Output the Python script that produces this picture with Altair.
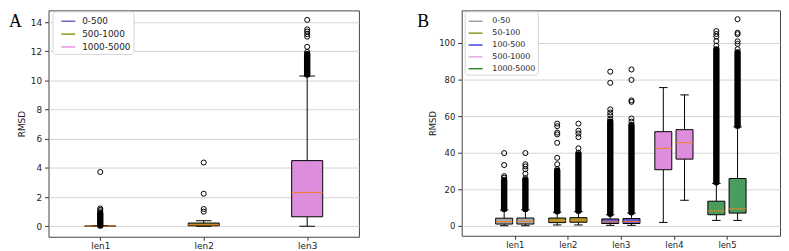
import json
import altair as alt
import pandas as pd

# ---------------- Panel A data ----------------
catsA = ["len1", "len2", "len3"]
groupsA = ["0-500", "500-1000", "1000-5000"]
a_q1 = [0.0, 0.03, 0.65]
a_med = [0.005, 0.10, 2.32]
a_q3 = [0.015, 0.22, 4.5]
a_wlo = [0.0, 0.0, 0.0]
a_whi = [0.04, 0.38, 10.3]
a_out = [[3.72, 1.22, 1.12, 1.02, 0.9],
         [4.37, 2.23, 1.18, 1.0],
         [14.15, 13.5, 13.35, 13.17, 13.0, 12.3, 11.95]]
a_dense = [[0.05, 0.82], None, [10.4, 11.8]]
a_ticks = [0, 2, 4, 6, 8, 10, 12, 14]

# ---------------- Panel B data (two boxes per category) ----------------
catsB = ["len1", "len2", "len3", "len4", "len5"]
groupsB = ["0-50", "50-100", "100-500", "500-1000", "1000-5000"]
b_q1 = [[1.0, 1.0], [1.8, 2.0], [1.3, 1.3], [30.7, 36.5], [6.1, 7.0]]
b_med = [[2.3, 2.4], [2.9, 3.1], [2.2, 2.3], [42.4, 45.5], [8.2, 9.3]]
b_q3 = [[4.2, 4.3], [4.3, 4.5], [3.8, 4.0], [51.5, 52.6], [13.5, 25.9]]
b_wlo = [[0.1, 0.1], [0.5, 0.5], [0.3, 0.3], [1.9, 14.0], [3.0, 3.0]]
b_whi = [[8.7, 8.8], [7.5, 7.8], [6.1, 7.0], [75.6, 71.6], [23.2, 54.1]]
b_out = [[[39.8, 33.3, 27.2, 26.3, 25.2], [39.8, 33.7, 32.5, 31.0, 28.5, 26.0]],
         [[55.9, 54.5, 51.0, 50.0, 45.4, 37.2, 33.7, 31.0], [55.9, 52.0, 50.5, 48.5, 42.4, 40.0]],
         [[84.3, 78.2, 63.7, 62.0, 60.5, 58.5], [85.5, 79.8, 68.6, 67.8, 58.7, 57.0]],
         [[], []],
         [[106.5, 104.9, 103.5, 101.0, 98.5], [113.0, 105.6, 104.8, 100.9, 99.5, 96.6]]]
b_dense = [[[9.3, 24.5], [9.3, 25.0]],
           [[8.0, 30.0], [8.3, 39.0]],
           [[6.6, 57.0], [7.5, 55.0]],
           [None, None],
           [[23.8, 96.5], [54.8, 94.8]]]
b_ticks = [0, 20, 40, 60, 80, 100]

# ---------------- styles ----------------
fillA = ["#6a5acd", "#8b9a1f", "#dc8edc"]
lineA = ["#7060c8", "#8a9a1a", "#e890e8"]
fillB = ["#a8a8a8", "#9a9a30", "#6a5acd", "#dc8edc", "#4a9d5c"]
lineB = ["#a0a0a0", "#8a9a2a", "#4040e0", "#e0a8e0", "#2e8b2e"]
MEDIAN = "#f07f22"
FONT = "DejaVu Sans"


def build(boxes, outs, denses, groups, fills, lines, cats, xdom, ydom, yticks,
          width, height, letter, letter_dx, fs, legend, hw, title_pad):
    bdf = pd.DataFrame(boxes)
    cmap = dict(zip(groups, fills))
    bdf["fillcol"] = bdf["grp"].map(cmap)
    bdf["x_lo"] = bdf["pos"] - hw
    bdf["x_hi"] = bdf["pos"] + hw
    bdf["c_lo"] = bdf["pos"] - hw / 2
    bdf["c_hi"] = bdf["pos"] + hw / 2
    odf = pd.DataFrame(outs, columns=["pos", "val"])
    ddf = pd.DataFrame(denses, columns=["pos", "lo", "hi"])
    ldf = pd.DataFrame({"size_group": groups, "pos": [xdom[0]] * len(groups),
                        "y": [ydom[0]] * len(groups)})

    xs = alt.Scale(domain=xdom, nice=False, zero=False)
    ys = alt.Scale(domain=ydom, nice=False, zero=False)
    label_expr = json.dumps(cats) + "[datum.value - 1]"
    xax = alt.Axis(values=list(range(1, len(cats) + 1)), labelExpr=label_expr, grid=False,
                   domain=False, ticks=True, tickSize=3.5, tickColor="#333", labelPadding=1,
                   labelFontSize=fs, labelColor="#222", labelFont=FONT, title=None,
                   labelAngle=0)
    yax = alt.Axis(values=yticks, grid=True, gridColor="#d3d3d3", gridWidth=1, domain=False,
                   tickSize=4, tickColor="#333", labelPadding=3, labelFontSize=fs,
                   labelColor="#222", labelFont=FONT, title="RMSD", titleFontSize=fs,
                   titleFontWeight="normal", titleFont=FONT, titleColor="#222",
                   titlePadding=title_pad)
    X = lambda f: alt.X(f, type="quantitative", scale=xs, axis=xax)
    Y = lambda f: alt.Y(f, type="quantitative", scale=ys, axis=yax)

    base = alt.Chart(bdf)
    wl = base.mark_rule(color="black", strokeWidth=1).encode(x=X("pos"), y=Y("wlo"), y2="q1")
    wh = base.mark_rule(color="black", strokeWidth=1).encode(x=X("pos"), y=Y("q3"), y2="whi")
    cl = base.mark_rule(color="black", strokeWidth=1).encode(x=X("c_lo"), x2="c_hi", y=Y("wlo"))
    ch = base.mark_rule(color="black", strokeWidth=1).encode(x=X("c_lo"), x2="c_hi", y=Y("whi"))
    box = base.mark_rect(stroke="black", strokeWidth=1).encode(
        x=X("x_lo"), x2="x_hi", y=Y("q1"), y2="q3",
        fill=alt.Fill("fillcol:N", scale=None))
    med = base.mark_rule(color=MEDIAN, strokeWidth=1).encode(x=X("x_lo"), x2="x_hi", y=Y("med"))
    dense = alt.Chart(ddf).mark_rule(color="black", strokeWidth=6.5, strokeCap="round").encode(
        x=X("pos"), y=Y("lo"), y2="hi")
    pts = alt.Chart(odf).mark_point(shape="circle", filled=False, color="black", size=26,
                                    strokeWidth=1, opacity=1).encode(x=X("pos"), y=Y("val"))
    leg = alt.Chart(ldf).mark_line(strokeWidth=1.5).encode(
        x=X("pos"), y=Y("y"),
        color=alt.Color("size_group:N", scale=alt.Scale(domain=groups, range=lines),
                        legend=legend))
    txt = alt.Chart(pd.DataFrame({"t": [letter]})).mark_text(
        font="Liberation Serif", fontSize=18, align="left", baseline="alphabetic",
        color="black").encode(text="t:N", x=alt.value(letter_dx), y=alt.value(17))
    return alt.layer(wl, wh, cl, ch, box, med, dense, pts, leg, txt).properties(
        width=width, height=height)


# assemble panel A
boxesA, outsA, densA = [], [], []
for i, c in enumerate(catsA):
    p = i + 1
    boxesA.append(dict(pos=p, grp=groupsA[i], q1=a_q1[i], med=a_med[i], q3=a_q3[i],
                       wlo=a_wlo[i], whi=a_whi[i]))
    for v in a_out[i]:
        outsA.append((p, v))
    if a_dense[i]:
        densA.append((p, a_dense[i][0], a_dense[i][1]))

# assemble panel B
OFF = [-0.2, 0.2]
boxesB, outsB, densB = [], [], []
for i, c in enumerate(catsB):
    for j in range(2):
        p = i + 1 + OFF[j]
        boxesB.append(dict(pos=p, grp=groupsB[i], q1=b_q1[i][j], med=b_med[i][j],
                           q3=b_q3[i][j], wlo=b_wlo[i][j], whi=b_whi[i][j]))
        for v in b_out[i][j]:
            outsB.append((p, v))
        if b_dense[i][j]:
            densB.append((p, b_dense[i][j][0], b_dense[i][j][1]))

common = dict(title=None, orient="none", symbolType="stroke", symbolSize=196,
              symbolStrokeWidth=1.5, labelFont=FONT, labelColor="#222",
              strokeColor="#d5d5d5", fillColor="white", cornerRadius=3)
legA = alt.Legend(legendX=4, legendY=1, padding=2, symbolOffset=6, labelOffset=6,
                  rowPadding=-1, labelFontSize=9, **common)
legB = alt.Legend(legendX=3, legendY=1, padding=2, symbolOffset=1, labelOffset=9,
                  rowPadding=-2.5, labelFontSize=8, **common)

chartA = build(boxesA, outsA, densA, groupsA, fillA, lineA, catsA, [0.5, 3.5], [-0.72, 14.8],
               a_ticks, 314, 229, "A", -40, 9, legA, 0.15, 4)
chartB = build(boxesB, outsB, densB, groupsB, fillB, lineB, catsB, [0, 6], [-5.4, 117.8],
               b_ticks, 322, 228, "B", -45, 8.5, legB, 0.16, 1)

chart = alt.hconcat(chartA, chartB, spacing=104, bounds="flush").resolve_scale(
    x="independent", y="independent", color="independent"
).resolve_legend(color="independent").configure_view(
    stroke="#444", strokeWidth=1
).properties(padding={"left": 0, "top": 0, "right": 0, "bottom": 0})

chart.save("out.html", embed_options={"renderer": "svg", "actions": False})
